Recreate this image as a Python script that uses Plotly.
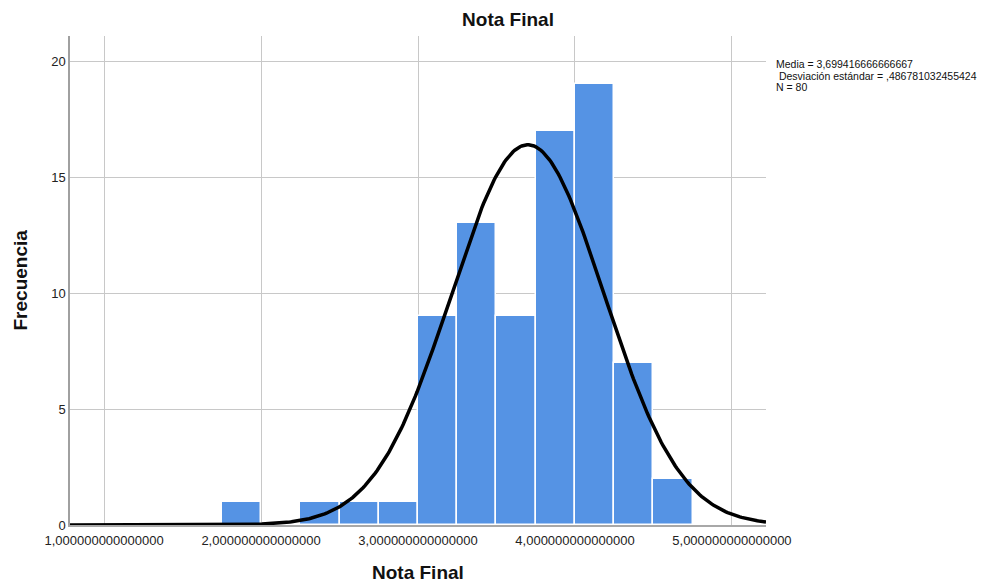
import numpy as np
import plotly.graph_objects as go

# Histogram data (bin lower edges, counts)
bin_lower = [1.75, 2.25, 2.50, 2.75, 3.00, 3.25, 3.50, 3.75, 4.00, 4.25, 4.50]
counts = [1, 1, 1, 1, 9, 13, 9, 17, 19, 7, 2]
bin_width = 0.25

# Summary statistics shown in the chart
media = 3.699416666666667
desv = 0.486781032455424
n_total = 80

x_ticks = [1, 2, 3, 4, 5]
x_tick_labels = ["1,000000000000000", "2,000000000000000", "3,000000000000000",
                 "4,000000000000000", "5,000000000000000"]
y_ticks = [0, 5, 10, 15, 20]

x_range = [0.783, 5.217]
y_range = [0, 21.08]

centers = [b + bin_width / 2 for b in bin_lower]

# Fitted normal curve from the displayed mean / sd
xc = np.linspace(x_range[0], x_range[1], 400)
yc = n_total * bin_width / (desv * np.sqrt(2 * np.pi)) * np.exp(-0.5 * ((xc - media) / desv) ** 2)

FONT = "Liberation Sans, Arial, sans-serif"

# page body has an 8px margin; figure is sized so the plot area lands where the reference has it
W, H = 984, 575

fig = go.Figure()
fig.add_trace(go.Bar(
    x=centers, y=counts, width=[bin_width] * len(centers),
    marker=dict(color="rgb(85,147,228)", line=dict(color="white", width=1.5)),
    showlegend=False, hoverinfo="x+y",
))
fig.add_trace(go.Scatter(
    x=xc, y=yc, mode="lines", line=dict(color="black", width=3.5),
    showlegend=False, hoverinfo="skip",
))

fig.update_layout(
    width=W, height=H,
    margin=dict(l=62, r=226, t=28, b=58),
    paper_bgcolor="white", plot_bgcolor="white",
    font=dict(family=FONT, size=13, color="#222"),
    bargap=0,
    title=dict(text="<b>Nota Final</b>", x=(508 - 8) / W, xref="container", xanchor="center",
               y=1 - 11 / H, yref="container", yanchor="middle",
               font=dict(size=19, family=FONT, color="#111")),
    xaxis=dict(range=x_range, tickvals=x_ticks, ticktext=x_tick_labels,
               showgrid=True, gridcolor="#C8C8C8", gridwidth=1,
               showline=True, linecolor="#A8A8A8", linewidth=1.5,
               ticks="outside", ticklen=3, tickcolor="rgba(0,0,0,0)",
               zeroline=False, fixedrange=True,
               tickfont=dict(size=13, family=FONT, color="#222")),
    yaxis=dict(range=y_range, tickvals=y_ticks,
               showgrid=True, gridcolor="#C8C8C8", gridwidth=1,
               showline=True, linecolor="#A0A0A0", linewidth=1.5,
               zeroline=False, fixedrange=True,
               tickfont=dict(size=13, family=FONT, color="#222")),
)

# Axis titles
fig.add_annotation(text="<b>Nota Final</b>", xref="paper", yref="paper",
                   x=0.5, y=(525 - 572) / 489, xanchor="center", yanchor="middle",
                   showarrow=False, font=dict(size=19, family=FONT, color="#111"))
fig.add_annotation(text="<b>Frecuencia</b>", xref="paper", yref="paper",
                   x=(20 - 70) / 696, y=0.5, xanchor="center", yanchor="middle",
                   textangle=-90, showarrow=False,
                   font=dict(size=19, family=FONT, color="#111"))

# Statistics box
stats_lines = [
    "Media = 3,699416666666667",
    " Desviación estándar = ,486781032455424",
    "N = 80",
]
for line, ypx in zip(stats_lines, [64, 75.5, 87]):
    fig.add_annotation(text=line, xref="paper", yref="paper",
                       x=(774 - 70) / 696, y=(525 - ypx) / 489,
                       xanchor="left", yanchor="middle", showarrow=False,
                       font=dict(size=10.5, family=FONT, color="#111"))

fig.write_html("out.html")
